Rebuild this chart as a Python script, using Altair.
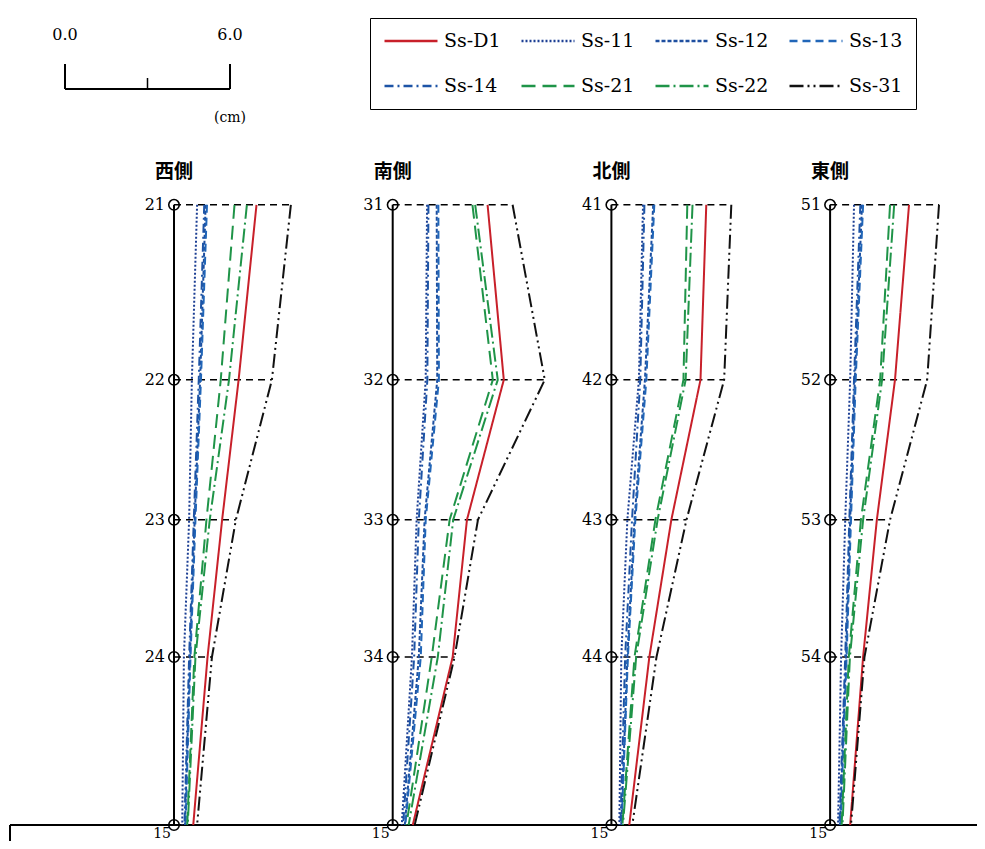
import altair as alt
import pandas as pd

# ---------------- data ----------------
panels = ["西側", "南側", "北側", "東側"]
node_labels = [
    ["21", "22", "23", "24", "15"],
    ["31", "32", "33", "34", "15"],
    ["41", "42", "43", "44", "15"],
    ["51", "52", "53", "54", "15"],
]
# relative level of the nodes (top -> bottom)
node_elev = [22.15, 15.9, 10.9, 6.0, 0.0]

series = ["Ss-D1", "Ss-11", "Ss-12", "Ss-13", "Ss-14", "Ss-21", "Ss-22", "Ss-31"]

# displacement (cm) at each node, top -> bottom
west = {
    "Ss-D1": [3.00, 2.35, 1.75, 1.22, 0.70],
    "Ss-11": [0.84, 0.65, 0.55, 0.36, 0.30],
    "Ss-12": [1.15, 0.95, 0.75, 0.58, 0.40],
    "Ss-13": [1.20, 0.98, 0.78, 0.60, 0.42],
    "Ss-14": [1.10, 0.90, 0.72, 0.55, 0.38],
    "Ss-21": [2.20, 1.70, 1.18, 0.74, 0.48],
    "Ss-22": [2.65, 2.00, 1.30, 0.78, 0.50],
    "Ss-31": [4.25, 3.56, 2.25, 1.38, 0.84],
}
south = {
    "Ss-D1": [3.45, 4.04, 2.70, 2.18, 0.73],
    "Ss-11": [1.25, 1.20, 0.87, 0.70, 0.33],
    "Ss-12": [1.60, 1.62, 1.16, 0.95, 0.44],
    "Ss-13": [1.66, 1.68, 1.20, 1.02, 0.46],
    "Ss-14": [1.30, 1.26, 0.95, 0.78, 0.38],
    "Ss-21": [2.90, 3.64, 2.07, 1.42, 0.50],
    "Ss-22": [3.00, 3.82, 2.20, 1.64, 0.58],
    "Ss-31": [4.36, 5.53, 3.10, 2.25, 0.80],
}
north = {
    "Ss-D1": [3.45, 3.24, 2.18, 1.38, 0.65],
    "Ss-11": [1.15, 1.00, 0.58, 0.36, 0.29],
    "Ss-12": [1.52, 1.22, 0.84, 0.58, 0.36],
    "Ss-13": [1.56, 1.27, 0.87, 0.60, 0.37],
    "Ss-14": [1.20, 1.05, 0.75, 0.50, 0.33],
    "Ss-21": [2.76, 2.62, 1.60, 0.84, 0.40],
    "Ss-22": [2.95, 2.70, 1.68, 0.90, 0.42],
    "Ss-31": [4.36, 4.10, 2.73, 1.64, 0.76],
}
east = {
    "Ss-D1": [2.87, 2.36, 1.70, 1.20, 0.73],
    "Ss-11": [0.87, 0.73, 0.55, 0.40, 0.29],
    "Ss-12": [1.16, 0.90, 0.73, 0.58, 0.36],
    "Ss-13": [1.20, 0.93, 0.76, 0.60, 0.38],
    "Ss-14": [1.10, 0.87, 0.70, 0.55, 0.34],
    "Ss-21": [2.18, 1.82, 1.12, 0.68, 0.42],
    "Ss-22": [2.33, 1.89, 1.20, 0.72, 0.45],
    "Ss-31": [3.96, 3.53, 2.18, 1.25, 0.76],
}
panel_values = [west, south, north, east]

# scale bar
scale_bar_ticks = [0.0, 3.0, 6.0]
scale_bar_labels = ["0.0", "", "6.0"]
scale_bar_unit = "(cm)"

# ---------------- styles / layout ----------------
colors = ["#c8202a", "#1c3f94", "#1e4fa0", "#2166b8", "#1d54a6", "#1f9448", "#1f9448", "#111111"]
dashes = [[1, 0], [2, 2], [4, 2], [8, 5], [9, 4, 2, 4], [14, 7], [14, 4, 2, 4], [14, 4, 2, 4, 2, 4]]

W, H = 969, 833
PX_CM = 27.5            # pixels per cm
PX_LV = 28.0            # pixels per level unit
XMIN = -166 / PX_CM
XMAX = XMIN + W / PX_CM
YMIN = -(H - 817) / PX_LV
YMAX = YMIN + H / PX_LV
PITCH = 218.7 / PX_CM   # distance between panel axes (cm)
SB_X0 = XMIN + 57 / PX_CM

xs = alt.Scale(domain=[XMIN, XMAX], nice=False, zero=False)
ys = alt.Scale(domain=[YMIN, YMAX], nice=False, zero=False)

SERIF = "DejaVu Serif"
CJK = "Noto Sans CJK JP"

# ---------------- tables ----------------
rows = []
for p, vals in enumerate(panel_values):
    for s in series:
        for k, v in enumerate(vals[s]):
            rows.append({"panel": panels[p], "pidx": p, "node": node_labels[p][k],
                         "k": k, "elev": node_elev[k], "series": s, "value": v})
df = pd.DataFrame(rows)

nrows = []
for p in range(len(panels)):
    for k, lab in enumerate(node_labels[p]):
        nrows.append({"panel": panels[p], "pidx": p, "node": lab, "k": k,
                      "elev": node_elev[k], "bottom": k == len(node_elev) - 1})
nodes = pd.DataFrame(nrows)

pdf = pd.DataFrame({"panel": panels, "pidx": list(range(len(panels))),
                    "top": [node_elev[0]] * len(panels), "bot": [node_elev[-1]] * len(panels)})

sb = pd.DataFrame({"v": scale_bar_ticks, "label": scale_bar_labels})
base = pd.DataFrame({"elev": [node_elev[-1]]})

X = lambda f: alt.X(f, type="quantitative", scale=xs, axis=None)
Y = lambda f: alt.Y(f, type="quantitative", scale=ys, axis=None)

legend_def = dict(orient="none", legendX=362, legendY=10, columns=4,
                  direction="horizontal", title=None,
                  strokeColor="black", padding=13,
                  symbolType="stroke", symbolSize=2809, symbolStrokeWidth=2.4,
                  labelFont=SERIF, labelFontSize=19, labelColor="black",
                  labelOffset=5, columnPadding=19, rowPadding=25,
                  clipHeight=20)

# ---------------- layers ----------------
axis_line = alt.Chart(pdf).transform_calculate(
    x0=f"datum.pidx * {PITCH}"
).mark_rule(color="black", strokeWidth=2).encode(
    x=X("x0"), y=Y("top"), y2="bot"
)

dash_rows = alt.Chart(df).transform_filter("datum.k < 4").transform_aggregate(
    vmax="max(value)", groupby=["pidx", "elev"]
).transform_calculate(
    x0=f"datum.pidx * {PITCH}", x1=f"datum.vmax + datum.pidx * {PITCH}"
).mark_rule(color="black", strokeWidth=1.6, strokeDash=[7, 5]).encode(
    x=X("x0"), x2="x1", y=Y("elev")
)

lines = alt.Chart(df).transform_calculate(
    xp=f"datum.value + datum.pidx * {PITCH}"
).mark_line(strokeWidth=2, clip=False).encode(
    x=X("xp"), y=Y("elev"),
    detail="panel:N",
    order=alt.Order("k:Q"),
    color=alt.Color("series:N", scale=alt.Scale(domain=series, range=colors),
                    legend=alt.Legend(**legend_def)),
    strokeDash=alt.StrokeDash("series:N", scale=alt.Scale(domain=series, range=dashes),
                              legend=alt.Legend(**legend_def)),
)

circles = alt.Chart(nodes).transform_calculate(
    x0=f"datum.pidx * {PITCH}"
).mark_point(shape="circle", filled=False, size=110, color="black", strokeWidth=1.6, opacity=1).encode(
    x=X("x0"), y=Y("elev")
)

node_text = alt.Chart(nodes).transform_filter("!datum.bottom").transform_calculate(
    x0=f"datum.pidx * {PITCH}"
).mark_text(align="right", baseline="middle", dx=-9, font=SERIF, fontSize=16, color="black").encode(
    x=X("x0"), y=Y("elev"), text="node:N"
)

bottom_text = alt.Chart(nodes).transform_filter("datum.bottom").transform_calculate(
    x0=f"datum.pidx * {PITCH}"
).mark_text(align="right", baseline="alphabetic", dx=-3, dy=13, font=SERIF, fontSize=14,
            color="black").encode(
    x=X("x0"), y=Y("elev"), text="node:N"
)

titles = alt.Chart(pdf).transform_calculate(
    x0=f"datum.pidx * {PITCH}"
).mark_text(align="center", baseline="middle", dy=-33, font=CJK, fontSize=19, fontWeight="bold",
            color="black").encode(
    x=X("x0"), y=Y("top"), text="panel:N"
)

base_line = alt.Chart(base).mark_rule(color="black", strokeWidth=2).encode(
    x=alt.value(2), x2=alt.value(W), y=Y("elev")
)
base_left = alt.Chart(base).mark_rule(color="black", strokeWidth=2).encode(
    x=alt.value(2), y=Y("elev"), y2=alt.value(H)
)

# scale bar
sb_base = alt.Chart(sb).transform_calculate(xp=f"datum.v + {SB_X0}")
sb_h = sb_base.transform_aggregate(a="min(xp)", b="max(xp)").mark_rule(
    color="black", strokeWidth=2).encode(x=X("a"), x2="b", y=alt.value(81))
sb_end = sb_base.transform_filter("datum.label != ''").mark_rule(
    color="black", strokeWidth=2).encode(x=X("xp"), y=alt.value(56), y2=alt.value(81))
sb_mid = sb_base.transform_filter("datum.label == ''").mark_rule(
    color="black", strokeWidth=1.5).encode(x=X("xp"), y=alt.value(70), y2=alt.value(81))
sb_txt = sb_base.transform_filter("datum.label != ''").mark_text(
    font=SERIF, fontSize=16, baseline="middle", align="center", color="black").encode(
    x=X("xp"), y=alt.value(27), text="label:N")
sb_unit = sb_base.transform_aggregate(b="max(xp)").transform_calculate(
    u=f"'{scale_bar_unit}'").mark_text(
    font=SERIF, fontSize=14, baseline="middle", align="center", color="black").encode(
    x=X("b"), y=alt.value(110), text="u:N")

chart = alt.layer(
    base_line, base_left, axis_line, dash_rows, lines, circles, node_text, bottom_text, titles,
    sb_h, sb_end, sb_mid, sb_txt, sb_unit,
).properties(
    width=W, height=H, padding=0, background="white",
    autosize=alt.AutoSizeParams(type="none"),
).configure_view(strokeWidth=0)

chart.save("out.html", embed_options={"renderer": "svg", "actions": False})
